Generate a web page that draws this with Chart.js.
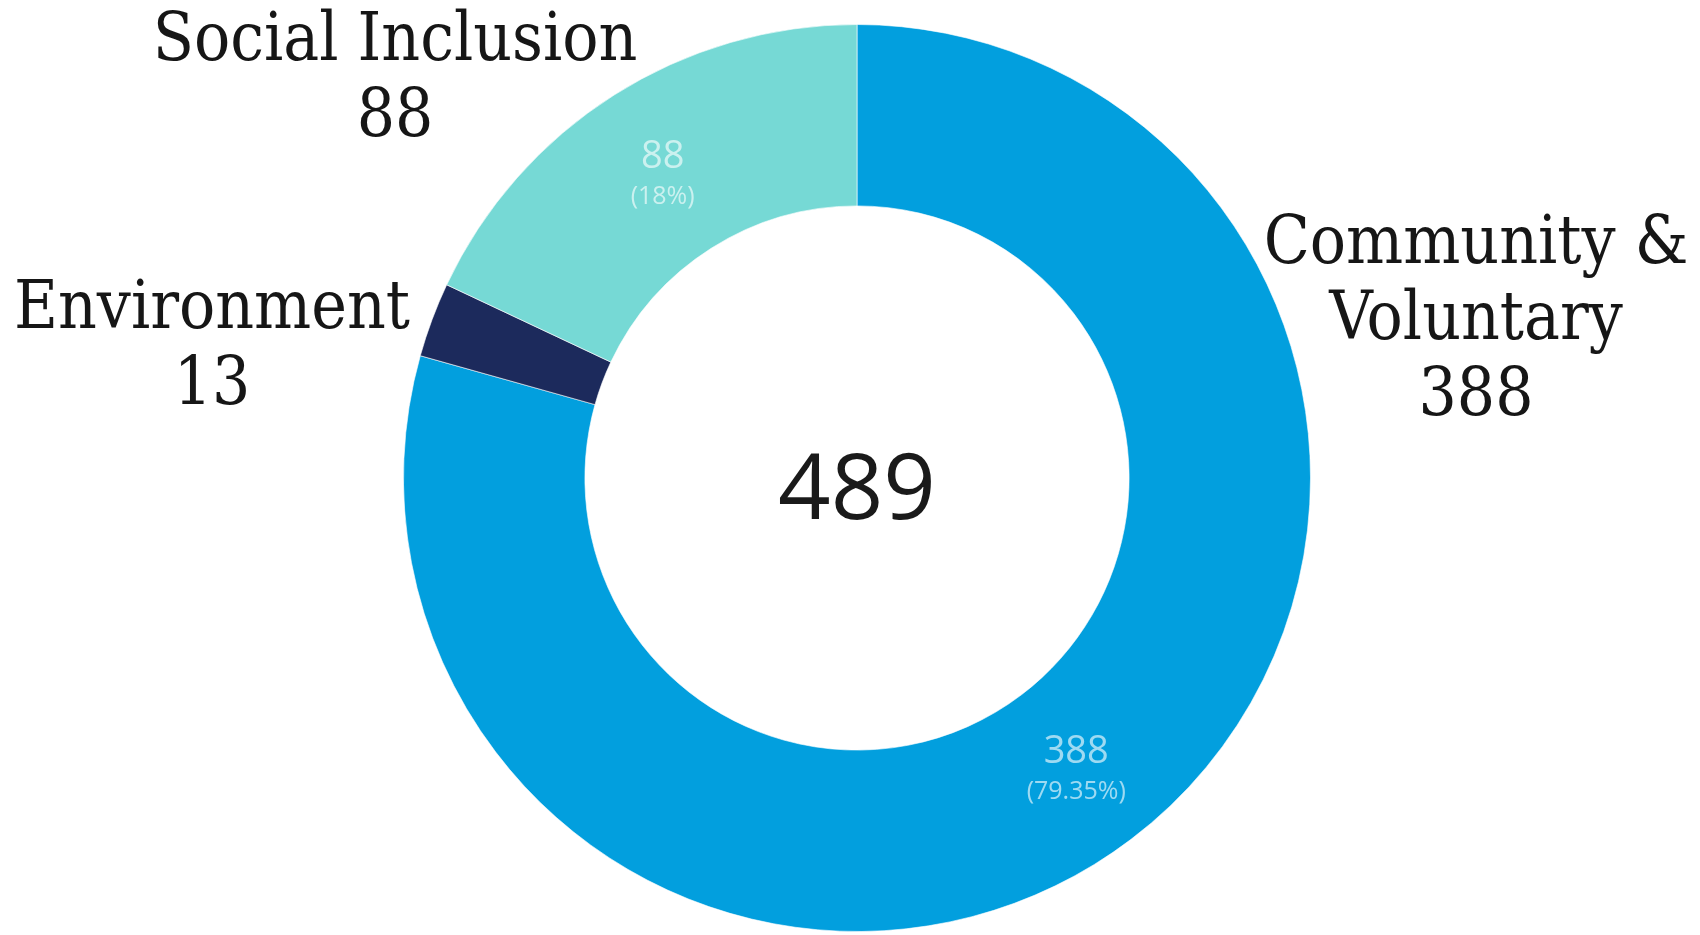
<!DOCTYPE html>
<html>
<head>
<meta charset="utf-8">
<script src="https://cdn.jsdelivr.net/npm/chart.js@4/dist/chart.umd.min.js"></script>
<style>
  html, body { margin: 0; padding: 0; background: #ffffff; }
  #chart-container { position: relative; width: 1700px; height: 935px; }
</style>
</head>
<body>
<div id="chart-container"><canvas id="donut-chart"></canvas></div>
<script>
// Datos del gráfico
const categorias = ['Community & Voluntary', 'Environment', 'Social Inclusion'];
const valores = [388, 13, 88];
const colores = ['#029FDE', '#1C2A5C', '#76D9D5'];

// Etiquetas exteriores: líneas de texto por categoría
const etiquetasExteriores = [
  ['Community &', 'Voluntary', '388'],
  ['Environment', '13'],
  ['Social Inclusion', '88']
];

const total = valores.reduce((a, b) => a + b, 0);

// Plugin para dibujar el total, los valores dentro de los segmentos y las etiquetas
const etiquetasPlugin = {
  id: 'etiquetas',
  afterDatasetsDraw(chart, args, opts) {
    const ctx = chart.ctx;
    const meta = chart.getDatasetMeta(0);
    const arco0 = meta.data[0];
    const cx = arco0.x;
    const cy = arco0.y;

    ctx.save();
    ctx.textAlign = 'center';
    ctx.textBaseline = 'alphabetic';

    // Total en el centro
    ctx.fillStyle = '#1a1a1a';
    ctx.font = '92px "Open Sans", "Noto Sans", sans-serif';
    ctx.fillText(String(total), cx, cy + 41);

    // Valores y porcentajes dentro de los segmentos grandes
    meta.data.forEach((arco, i) => {
      const pct = valores[i] / total * 100;
      if (pct < 5) return;
      const p = arco.getCenterPoint();
      ctx.fillStyle = 'rgba(255, 255, 255, 0.62)';
      ctx.font = '38px "Open Sans", "Noto Sans", sans-serif';
      ctx.fillText(String(valores[i]), p.x, p.y - 4);
      ctx.font = '25px "Open Sans", "Noto Sans", sans-serif';
      ctx.fillText('(' + parseFloat(pct.toFixed(2)) + '%)', p.x, p.y + 32);
    });

    // Etiquetas exteriores
    ctx.fillStyle = '#161616';
    ctx.font = '67px "DejaVu Serif Condensed", "DejaVu Serif", serif';
    opts.posiciones.forEach((pos, i) => {
      etiquetasExteriores[i].forEach((linea, j) => {
        ctx.fillText(linea, pos.x, pos.y + j * opts.interlineado);
      });
    });

    ctx.restore();
  }
};

const canvas = document.getElementById('donut-chart');
const ctx = canvas.getContext('2d');

new Chart(ctx, {
  type: 'doughnut',
  data: {
    labels: categorias,
    datasets: [{
      data: valores,
      backgroundColor: colores,
      borderColor: 'rgba(255, 255, 255, 0.6)',
      borderWidth: 1,
      hoverOffset: 0
    }]
  },
  options: {
    responsive: true,
    maintainAspectRatio: false,
    animation: false,
    cutout: '60%',
    layout: {
      padding: { top: 24, bottom: 3, left: 402, right: 388 }
    },
    plugins: {
      legend: { display: false },
      tooltip: { enabled: false },
      etiquetas: {
        interlineado: 76,
        posiciones: [
          { x: 1476, y: 263 },
          { x: 212, y: 328 },
          { x: 395, y: 60 }
        ]
      }
    }
  },
  plugins: [etiquetasPlugin]
});
</script>
</body>
</html>
